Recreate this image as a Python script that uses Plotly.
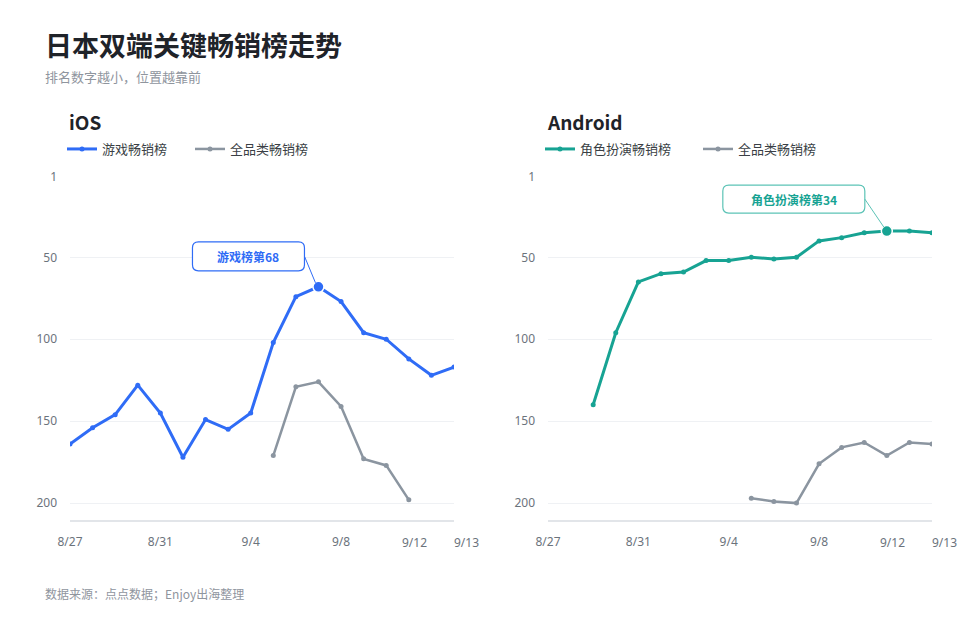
import plotly.graph_objects as go
from plotly.subplots import make_subplots

# rank data (smaller = better)
dates = [
    "2025-08-27", "2025-08-28", "2025-08-29", "2025-08-30", "2025-08-31",
    "2025-09-01", "2025-09-02", "2025-09-03", "2025-09-04", "2025-09-05",
    "2025-09-06", "2025-09-07", "2025-09-08", "2025-09-09", "2025-09-10",
    "2025-09-11", "2025-09-12", "2025-09-13",
]
ios_game = [164, 154, 146, 128, 145, 172, 149, 155, 145, 102, 74, 68, 77, 96, 100, 112, 122, 117]
ios_all = [None, None, None, None, None, None, None, None, None,
           171, 129, 126, 141, 173, 177, 198, None, None]
android_rpg = [None, None, 140, 96, 65, 60, 59, 52, 52, 50, 51, 50, 40, 38, 35, 34, 34, 35]
android_all = [None, None, None, None, None, None, None, None, None,
               197, 199, 200, 176, 166, 163, 171, 163, 164]

tick_dates = ["2025-08-27", "2025-08-31", "2025-09-04", "2025-09-08"]
tick_text = ["8/27", "8/31", "9/4", "9/8"]
end_dates = ["2025-09-12", "2025-09-13"]
end_text = ["9/12", "9/13"]
rank_ticks = [1, 50, 100, 150, 200]

ios_peak = ("2025-09-07", 68, "游戏榜第68")
android_peak = ("2025-09-11", 34, "角色扮演榜第34")

BLUE = "#2f6cf6"
TEAL = "#17a393"
GRAY = "#8b95a0"
FONT = "Noto Sans, Noto Sans CJK SC, sans-serif"
CJK = "Noto Sans CJK SC, sans-serif"

W, H = 960, 620
TOP, BOTTOM = 177, 100
PLOT_H = H - TOP - BOTTOM


def px(x_px):
    # page pixel -> paper x
    return x_px / W


def py(y_px):
    # page pixel -> paper y
    return (H - BOTTOM - y_px) / PLOT_H


fig = make_subplots(rows=1, cols=2)

panels = [
    (1, "legend", [("游戏畅销榜", ios_game, BLUE, 3), ("全品类畅销榜", ios_all, GRAY, 2.5)]),
    (2, "legend2", [("角色扮演畅销榜", android_rpg, TEAL, 3), ("全品类畅销榜", android_all, GRAY, 2.5)]),
]
for col, legend, series in panels:
    for name, vals, color, width in series:
        fig.add_trace(
            go.Scatter(
                x=dates, y=vals, name=name, mode="lines+markers",
                line=dict(color=color, width=width),
                marker=dict(color=color, size=5),
                legend=legend, connectgaps=False,
            ),
            row=1, col=col,
        )

# highlighted peak points + callouts
callouts = [
    (1, ios_peak, BLUE, BLUE, (-126, -14, 45, 16)),
    (2, android_peak, TEAL, "#5cc3b6", (-164, -22, 46, 18)),
]
for col, (d, r, label), color, border, (x0, x1, top, bot) in callouts:
    xref = "x" if col == 1 else "x2"
    yref = "y" if col == 1 else "y2"
    fig.add_trace(
        go.Scatter(x=[d], y=[r], mode="markers", showlegend=False,
                   marker=dict(color=color, size=11, line=dict(color="white", width=1.5))),
        row=1, col=col,
    )
    rad = 6
    path = (
        f"M {x0 + rad},{top} L {x1 - rad},{top} Q {x1},{top} {x1},{top - rad} "
        f"L {x1},{bot + rad} Q {x1},{bot} {x1 - rad},{bot} L {x0 + rad},{bot} "
        f"Q {x0},{bot} {x0},{bot + rad} L {x0},{top - rad} Q {x0},{top} {x0 + rad},{top} Z"
    )
    fig.add_shape(type="path", path=path, xref=xref, yref=yref,
                  xsizemode="pixel", ysizemode="pixel", xanchor=d, yanchor=r,
                  fillcolor="white", line=dict(color=border, width=1.2), layer="above")
    mid = (top + bot) / 2
    fig.add_shape(type="line", xref=xref, yref=yref,
                  xsizemode="pixel", ysizemode="pixel", xanchor=d, yanchor=r,
                  x0=x1, y0=mid, x1=-3, y1=4,
                  line=dict(color=border, width=1), layer="above")
    fig.add_annotation(x=d, y=r, xref=xref, yref=yref, text=f"<b>{label}</b>",
                       showarrow=False, xshift=(x0 + x1) / 2, yshift=mid,
                       font=dict(family=CJK, size=12, color=color))

axis_font = dict(family=FONT, size=12, color="#6b737c")
for col in (1, 2):
    fig.update_xaxes(
        row=1, col=col, type="date",
        range=[dates[0], dates[-1]],
        tickvals=tick_dates, ticktext=tick_text,
        showgrid=False, showline=True, linecolor="#e2e5e9", linewidth=2,
        ticks="", ticklabelstandoff=10, tickfont=axis_font,
    )
    fig.update_yaxes(
        row=1, col=col, range=[210.3, 1],
        tickvals=rank_ticks, showgrid=True, gridcolor="#eff1f4", gridwidth=1,
        zeroline=False, showline=False, ticks="", ticklabelstandoff=12,
        tickfont=axis_font,
    )
    xref = "x" if col == 1 else "x2"
    for d, t, shift in zip(end_dates, end_text, (-17, 12)):
        fig.add_annotation(x=d, y=py(542), xref=xref, yref="paper", text=t,
                           yanchor="middle", showarrow=False, xshift=shift,
                           font=axis_font)

fig.update_layout(
    xaxis=dict(domain=[px(70), px(454)]),
    xaxis2=dict(domain=[px(548), px(932)]),
)

# titles and notes
texts = [
    ("<b>日本双端关键畅销榜走势</b>", 43, 44, 27, "#1f2329"),
    ("排名数字越小，位置越靠前", 43, 77, 13, "#8f959e"),
    ("<b>iOS</b>", 67, 121, 19, "#1f2329"),
    ("<b>Android</b>", 545, 121, 19, "#1f2329"),
    ("数据来源：点点数据；Enjoy出海整理", 43, 593, 12, "#8f959e"),
]
for text, x, y, size, color in texts:
    fig.add_annotation(text=text, x=px(x), y=py(y), xref="paper", yref="paper",
                       xanchor="left", yanchor="middle", showarrow=False,
                       font=dict(family=CJK, size=size, color=color))

legend_style = dict(orientation="h", xanchor="left", yanchor="middle",
                    font=dict(family=CJK, size=13, color="#3a3f45"),
                    bgcolor="rgba(0,0,0,0)", itemwidth=30, entrywidthmode="pixels")
fig.update_layout(
    width=W, height=H,
    margin=dict(l=0, r=0, t=TOP, b=BOTTOM, autoexpand=False),
    paper_bgcolor="white", plot_bgcolor="white",
    font=dict(family=FONT),
    legend=dict(x=px(62), y=py(149), entrywidth=83, **legend_style),
    legend2=dict(x=px(540), y=py(149), entrywidth=113, **legend_style),
    hovermode=False,
)

fig.write_html("out.html", config={"displayModeBar": False},
               post_script="document.body.style.margin='0';")
